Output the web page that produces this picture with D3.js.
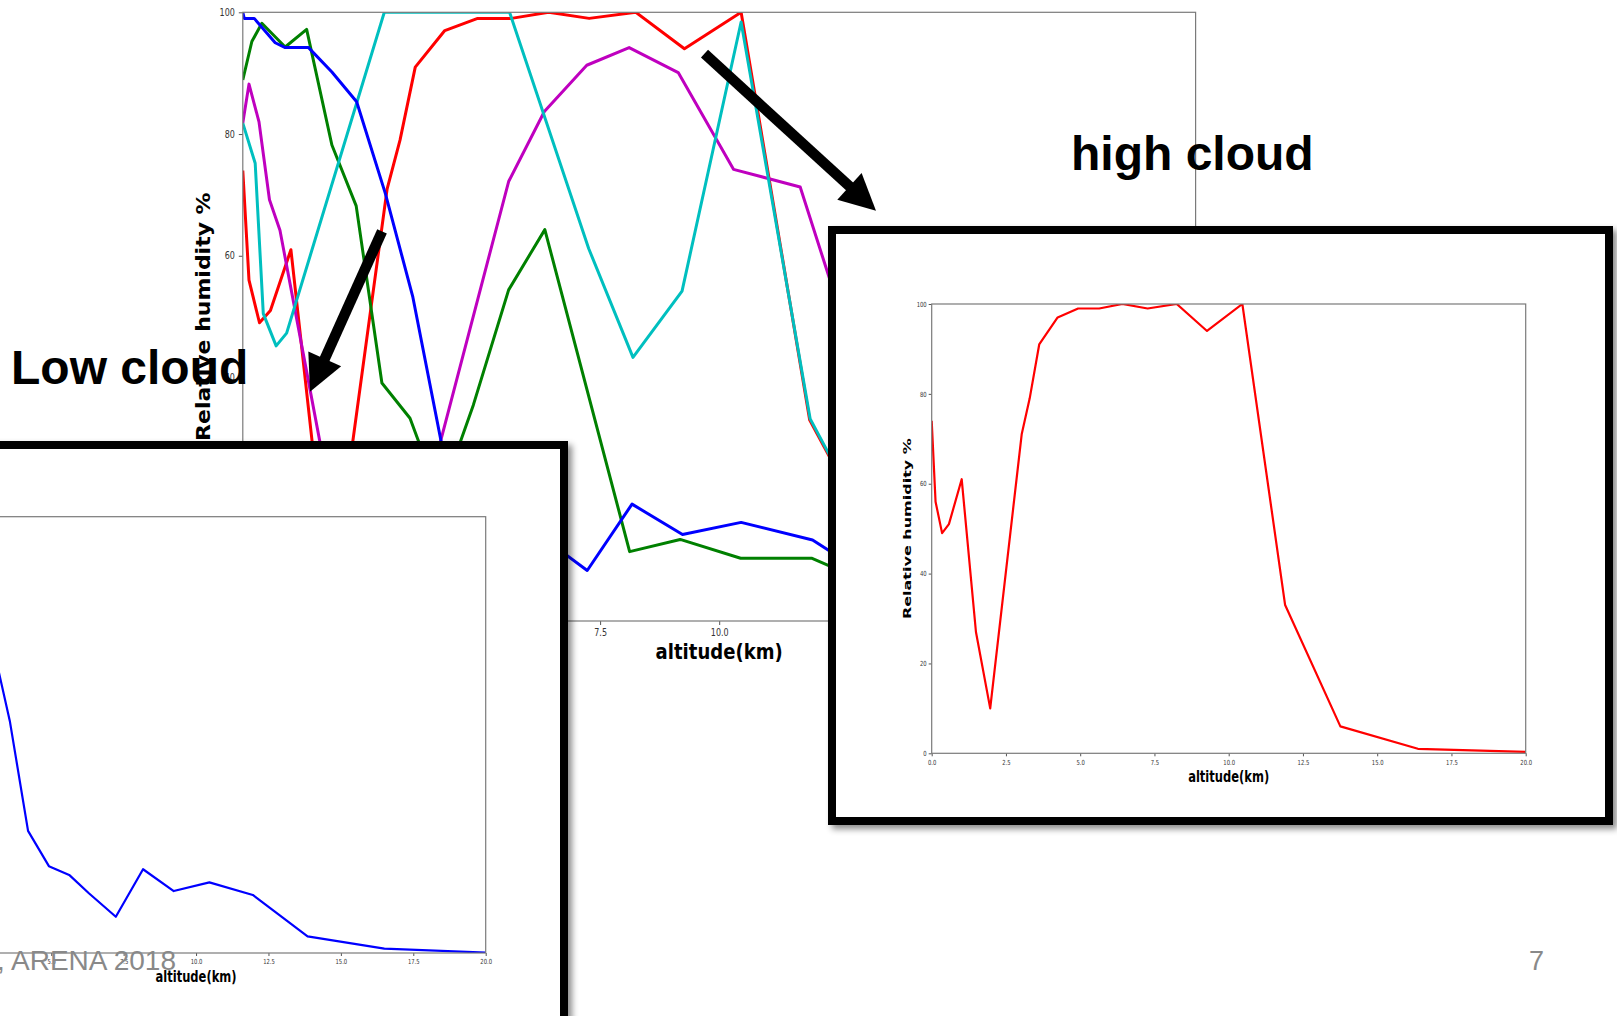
<!DOCTYPE html>
<html>
<head>
<meta charset="utf-8">
<script src="https://cdn.jsdelivr.net/npm/d3@7"></script>
<style>
  body { margin: 0; background: #fff; overflow: hidden; }
</style>
</head>
<body>
<script>
var width = 1617;
var height = 1016;

// soundings: altitude (km) and relative humidity (%)
var redAlt = [0, 0.13, 0.35, 0.58, 1.01, 1.49, 1.97, 3.03, 3.3, 3.62, 4.24, 4.93, 5.64, 6.42, 7.27, 8.25, 9.27, 10.46, 11.9, 13.76, 16.37, 20];
var redRh = [74, 56, 49, 51, 61, 27, 10, 71, 79, 91, 97, 99, 99, 100, 99, 100, 94, 100, 33, 6, 1, 0.3];

var blueAlt = [0, 0.03, 0.24, 0.68, 0.89, 1.38, 1.87, 2.39, 2.99, 3.57, 4.2, 4.92, 5.62, 6.3, 7.23, 8.17, 9.23, 10.46, 11.96, 13.85, 16.5, 20];
var blueRh = [100, 99, 99, 95, 94.2, 94.2, 90.2, 85.3, 70.3, 53.2, 28, 19.9, 17.9, 13.7, 8.3, 19.2, 14.2, 16.2, 13.3, 3.8, 1, 0.1];

var greenAlt = [0, 0.19, 0.4, 0.89, 1.34, 1.87, 2.38, 2.92, 3.51, 4.14, 4.84, 5.58, 6.34, 8.12, 9.18, 10.45, 11.95, 13.8];
var greenRh = [88.9, 95.2, 98.2, 94.3, 97.2, 78.2, 68.2, 39.1, 33.3, 20, 35.5, 54.4, 64.3, 11.4, 13.4, 10.3, 10.3, 4];

var cyanAlt = [0, 0.26, 0.43, 0.7, 0.92, 2.97, 5.6, 7.26, 8.19, 9.22, 10.46, 11.91, 13.76];
var cyanRh = [81.8, 75.2, 50.5, 45.2, 47.3, 100, 100, 61.2, 43.3, 54.2, 98.4, 33.2, 6];

var magentaAlt = [0, 0.13, 0.34, 0.56, 0.78, 1.87, 2.39, 2.99, 3.57, 4.2, 5.58, 6.33, 7.22, 8.11, 9.14, 10.3, 11.7, 13.8];
var magentaRh = [81.8, 88.2, 82, 69.2, 64.2, 19, 8, 4, 12, 31, 72.2, 83.7, 91.3, 94.2, 90.1, 74.2, 71.3, 20];

var xTicks = [0, 2.5, 5, 7.5, 10, 12.5, 15, 17.5, 20];
var yTicks = [0, 20, 40, 60, 80, 100];

var red = { alt: redAlt, rh: redRh, color: "#ff0000" };
var green = { alt: greenAlt, rh: greenRh, color: "#008000" };
var magenta = { alt: magentaAlt, rh: magentaRh, color: "#bf00bf" };
var cyan = { alt: cyanAlt, rh: cyanRh, color: "#00bfbf" };
var blue = { alt: blueAlt, rh: blueRh, color: "#0000ff" };

var svg = d3
  .select("body")
  .append("svg")
  .attr("width", width)
  .attr("height", height);

var defs = svg.append("defs");
defs
  .append("filter")
  .attr("id", "shadow")
  .attr("x", "-10%")
  .attr("y", "-10%")
  .attr("width", "125%")
  .attr("height", "125%")
  .append("feDropShadow")
  .attr("dx", 4)
  .attr("dy", 4)
  .attr("stdDeviation", 3)
  .attr("flood-color", "#000")
  .attr("flood-opacity", 0.45);

var clipId = 0;

// one matplotlib-like panel
function panel(p) {
  var g = svg.append("g");
  var x = d3.scaleLinear().domain([0, 20]).range([p.left, p.right]);
  var y = d3.scaleLinear().domain([0, 100]).range([p.bottom, p.top]);

  clipId++;
  defs
    .append("clipPath")
    .attr("id", "clip" + clipId)
    .append("rect")
    .attr("x", p.left)
    .attr("y", p.top)
    .attr("width", p.right - p.left)
    .attr("height", p.bottom - p.top);

  var ax = g
    .append("g")
    .attr("transform", "translate(0," + p.bottom + ")")
    .call(
      d3
        .axisBottom(x)
        .tickValues(xTicks)
        .tickFormat(d3.format(".1f"))
        .tickSize(p.tick)
        .tickSizeOuter(0)
        .tickPadding(p.padX)
    );
  var ay = g
    .append("g")
    .attr("transform", "translate(" + p.left + ",0)")
    .call(
      d3
        .axisLeft(y)
        .tickValues(yTicks)
        .tickSize(p.tick)
        .tickSizeOuter(0)
        .tickPadding(p.padY)
    );
  [ax, ay].forEach(function (a) {
    a.select(".domain").remove();
    a.selectAll("line").attr("stroke", "#555");
    a.selectAll("text")
      .attr("font-family", "DejaVu Sans, sans-serif")
      .attr("font-size", p.tickFont)
      .attr("fill", "#333")
      .attr("transform", "scale(" + p.tsx + ",1)");
  });
  ay.selectAll("text").attr("x", -(p.tick + p.padY) / p.tsx);

  // lines
  var line = d3
    .line()
    .x(function (d) {
      return x(d[0]);
    })
    .y(function (d) {
      return y(d[1]);
    });
  p.series.forEach(function (s) {
    g.append("path")
      .datum(d3.zip(s.alt, s.rh))
      .attr("clip-path", "url(#clip" + clipId + ")")
      .attr("fill", "none")
      .attr("stroke", s.color)
      .attr("stroke-width", p.lw)
      .attr("stroke-linejoin", "round")
      .attr("d", line);
  });

  // spines
  g.append("rect")
    .attr("x", p.left)
    .attr("y", p.top)
    .attr("width", p.right - p.left)
    .attr("height", p.bottom - p.top)
    .attr("fill", "none")
    .attr("stroke", "#7a7a7a")
    .attr("stroke-width", 1.2);

  // axis titles
  g.append("text")
    .attr(
      "transform",
      "translate(" + (p.left + p.right) / 2 + "," + p.xlabY + ") scale(" + p.xsx + ",1)"
    )
    .attr("text-anchor", "middle")
    .attr("font-family", "DejaVu Sans, sans-serif")
    .attr("font-weight", "bold")
    .attr("font-size", p.xlabFont)
    .text("altitude(km)");
  g.append("text")
    .attr(
      "transform",
      "translate(" + p.ylabX + "," + (p.top + p.bottom) / 2 + ") scale(" + p.ysx + ",1) rotate(-90)"
    )
    .attr("text-anchor", "middle")
    .attr("font-family", "DejaVu Sans, sans-serif")
    .attr("font-weight", "bold")
    .attr("font-size", p.ylabFont)
    .text("Relative humidity %");
}

function arrow(x1, y1, x2, y2) {
  var dx = x2 - x1,
    dy = y2 - y1,
    len = Math.sqrt(dx * dx + dy * dy);
  var ux = dx / len,
    uy = dy / len;
  var hl = 36,
    hw = 18;
  var bx = x2 - ux * hl,
    by = y2 - uy * hl;
  svg
    .append("line")
    .attr("x1", x1)
    .attr("y1", y1)
    .attr("x2", bx + ux * 2)
    .attr("y2", by + uy * 2)
    .attr("stroke", "#000")
    .attr("stroke-width", 10.5);
  svg
    .append("polygon")
    .attr(
      "points",
      [
        [x2, y2],
        [bx - uy * hw, by + ux * hw],
        [bx + uy * hw, by - ux * hw],
      ].join(" ")
    )
    .attr("fill", "#000");
}

// background chart with all soundings
panel({
  left: 242.8, right: 1195.6, top: 12.3, bottom: 621,
  tick: 4, padX: 3.5, padY: 4, tickFont: 10, tsx: 0.8,
  lw: 3, series: [red, green, magenta, cyan, blue],
  xlabY: 659, xlabFont: 21, xsx: 0.86,
  ylabX: 210, ylabFont: 22, ysx: 0.9,
});

// annotations
svg
  .append("text")
  .attr("x", 11)
  .attr("y", 384)
  .attr("font-family", "Liberation Sans, Arial, sans-serif")
  .attr("font-weight", "bold")
  .attr("font-size", 48)
  .text("Low cloud");
svg
  .append("text")
  .attr("x", 1071)
  .attr("y", 170)
  .attr("font-family", "Liberation Sans, Arial, sans-serif")
  .attr("font-weight", "bold")
  .attr("font-size", 48)
  .text("high cloud");

arrow(704.5, 53.7, 876, 210.7);
arrow(382, 231.3, 310, 391.7);

// inset frames
svg
  .append("rect")
  .attr("x", 832)
  .attr("y", 230)
  .attr("width", 777)
  .attr("height", 591)
  .attr("fill", "#fff")
  .attr("stroke", "#000")
  .attr("stroke-width", 8)
  .attr("filter", "url(#shadow)");
panel({
  left: 931.7, right: 1525.7, top: 304, bottom: 753.3,
  tick: 3, padX: 3.5, padY: 2, tickFont: 7, tsx: 0.75,
  lw: 2.2, series: [red],
  xlabY: 782, xlabFont: 16, xsx: 0.72,
  ylabX: 911, ylabFont: 16, ysx: 0.68,
});

svg
  .append("rect")
  .attr("x", -200)
  .attr("y", 445)
  .attr("width", 764)
  .attr("height", 700)
  .attr("fill", "#fff")
  .attr("stroke", "#000")
  .attr("stroke-width", 8)
  .attr("filter", "url(#shadow)");
panel({
  left: -93.6, right: 485.7, top: 516.7, bottom: 953,
  tick: 3, padX: 3.5, padY: 2, tickFont: 7, tsx: 0.75,
  lw: 2.2, series: [blue],
  xlabY: 982, xlabFont: 16, xsx: 0.72,
  ylabX: -114, ylabFont: 16, ysx: 0.68,
});

// slide footer
svg
  .append("text")
  .attr("x", 176)
  .attr("y", 970)
  .attr("text-anchor", "end")
  .attr("font-family", "Liberation Sans, Arial, sans-serif")
  .attr("font-size", 28)
  .attr("fill", "#898989")
  .text(", ARENA 2018");
svg
  .append("text")
  .attr("x", 1529)
  .attr("y", 970)
  .attr("font-family", "Liberation Sans, Arial, sans-serif")
  .attr("font-size", 27)
  .attr("fill", "#898989")
  .text("7");
</script>
</body>
</html>
